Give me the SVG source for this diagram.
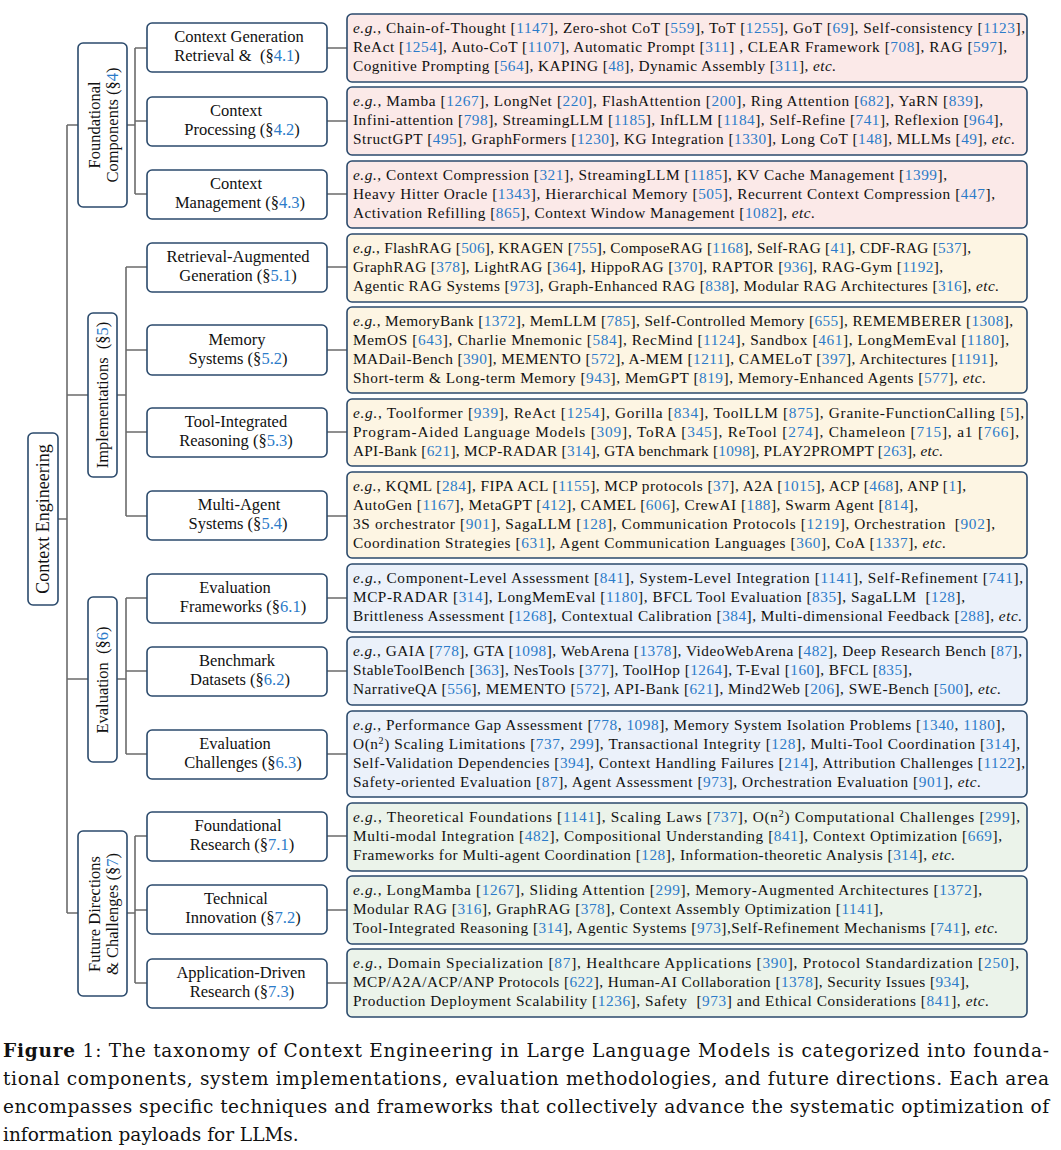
<svg xmlns="http://www.w3.org/2000/svg" width="1061" height="1150" viewBox="0 0 1061 1150">
<style>
text{font-family:"Liberation Serif","Times New Roman",serif;fill:#111}
.box{fill:#fff;stroke:#2b4a6c;stroke-width:1.6}
.pk{fill:#fbe9e8;stroke:#2b4a6c;stroke-width:1.6}
.cr{fill:#fdf5e3;stroke:#2b4a6c;stroke-width:1.6}
.bl{fill:#ebf1fa;stroke:#2b4a6c;stroke-width:1.6}
.gr{fill:#ebf3ea;stroke:#2b4a6c;stroke-width:1.6}
.lt{font-size:15.3px}
.lb{font-size:16.5px;text-anchor:middle}
.rt{font-size:18px;text-anchor:middle}
.c{fill:#2b7bc9}
.i{font-style:italic}
.cap{font-family:"DejaVu Serif","Liberation Serif",serif;font-size:18.5px}
#connectors path{fill:none;stroke:#6b6b6b;stroke-width:1.6}
</style>

<g id="connectors">
<path d="M58,519H67M67,125V913M67,125H78M67,395H88M67,679H88M67,913H78"/>
<path d="M127,125H135M135,48V194M135,48H147M135,121H147M135,194H147"/>
<path d="M117,395H126M126,267V516M126,267H147M126,350H147M126,432H147M126,516H147"/>
<path d="M117,679H126M126,598V754M126,598H147M126,671H147M126,754H147"/>
<path d="M127,913H135M135,836V983M135,836H147M135,910H147M135,983H147"/>
<path d="M327,48H347M327,121H347M327,194H347M327,267H347M327,350H347M327,432H347M327,516H347M327,598H347M327,671H347M327,754H347M327,836H347M327,910H347M327,983H347"/>
</g>

<g id="root">
<rect class="box" x="28" y="433" width="30" height="172" rx="5"/>
<text class="rt" transform="translate(49,519) rotate(-90)" x="0" y="0">Context Engineering</text>
</g>

<g id="l1-foundational">
<rect class="box" x="78" y="43" width="49" height="164" rx="5"/>
<text class="lb" transform="translate(99.5,125) rotate(-90)">Foundational</text>
<text class="lb" transform="translate(117.5,125) rotate(-90)">Components (§<tspan class="c">4</tspan>)</text>
</g>
<g id="l1-implementations">
<rect class="box" x="88" y="313" width="29" height="164" rx="5"/>
<text class="lb" transform="translate(108,395) rotate(-90)">Implementations&#160; (§<tspan class="c">5</tspan>)</text>
</g>
<g id="l1-evaluation">
<rect class="box" x="88" y="597" width="29" height="165" rx="5"/>
<text class="lb" transform="translate(108,680) rotate(-90)">Evaluation&#160; (§<tspan class="c">6</tspan>)</text>
</g>
<g id="l1-future">
<rect class="box" x="78" y="831" width="49" height="165" rx="5"/>
<text class="lb" transform="translate(99.5,914) rotate(-90)">Future Directions</text>
<text class="lb" transform="translate(117.5,914) rotate(-90)">&amp; Challenges (§<tspan class="c">7</tspan>)</text>
</g>

<g id="n41"><rect class="box" x="147" y="23" width="180" height="49" rx="5"/>
<text class="lb" x="239" y="42">Context Generation</text>
<text class="lb" x="237" y="61">Retrieval &amp;&#160; (§<tspan class="c">4.1</tspan>)</text></g>
<g id="n42"><rect class="box" x="147" y="97" width="180" height="49" rx="5"/>
<text class="lb" x="236" y="116">Context</text>
<text class="lb" x="242" y="135">Processing (§<tspan class="c">4.2</tspan>)</text></g>
<g id="n43"><rect class="box" x="147" y="170" width="180" height="49" rx="5"/>
<text class="lb" x="236" y="189">Context</text>
<text class="lb" x="240" y="208">Management (§<tspan class="c">4.3</tspan>)</text></g>
<g id="n51"><rect class="box" x="147" y="243" width="180" height="49" rx="5"/>
<text class="lb" x="238" y="262">Retrieval-Augmented</text>
<text class="lb" x="238" y="281">Generation (§<tspan class="c">5.1</tspan>)</text></g>
<g id="n52"><rect class="box" x="147" y="325" width="180" height="50" rx="5"/>
<text class="lb" x="237" y="345">Memory</text>
<text class="lb" x="238" y="364">Systems (§<tspan class="c">5.2</tspan>)</text></g>
<g id="n53"><rect class="box" x="147" y="408" width="180" height="49" rx="5"/>
<text class="lb" x="236" y="427">Tool-Integrated</text>
<text class="lb" x="236" y="446">Reasoning (§<tspan class="c">5.3</tspan>)</text></g>
<g id="n54"><rect class="box" x="147" y="491" width="180" height="49" rx="5"/>
<text class="lb" x="239" y="510">Multi-Agent</text>
<text class="lb" x="238" y="529">Systems (§<tspan class="c">5.4</tspan>)</text></g>
<g id="n61"><rect class="box" x="147" y="574" width="180" height="49" rx="5"/>
<text class="lb" x="235" y="593">Evaluation</text>
<text class="lb" x="243" y="612">Frameworks (§<tspan class="c">6.1</tspan>)</text></g>
<g id="n62"><rect class="box" x="147" y="647" width="180" height="49" rx="5"/>
<text class="lb" x="237" y="666">Benchmark</text>
<text class="lb" x="240" y="685">Datasets (§<tspan class="c">6.2</tspan>)</text></g>
<g id="n63"><rect class="box" x="147" y="730" width="180" height="49" rx="5"/>
<text class="lb" x="235" y="749">Evaluation</text>
<text class="lb" x="243" y="768">Challenges (§<tspan class="c">6.3</tspan>)</text></g>
<g id="n71"><rect class="box" x="147" y="812" width="180" height="49" rx="5"/>
<text class="lb" x="238" y="831">Foundational</text>
<text class="lb" x="242" y="850">Research (§<tspan class="c">7.1</tspan>)</text></g>
<g id="n72"><rect class="box" x="147" y="885" width="180" height="49" rx="5"/>
<text class="lb" x="236" y="904">Technical</text>
<text class="lb" x="243" y="923">Innovation (§<tspan class="c">7.2</tspan>)</text></g>
<g id="n73"><rect class="box" x="147" y="959" width="180" height="49" rx="5"/>
<text class="lb" x="241" y="978">Application-Driven</text>
<text class="lb" x="242" y="997">Research (§<tspan class="c">7.3</tspan>)</text></g>

<g id="leaf41"><rect class="pk" x="347" y="14" width="680" height="68" rx="5"/>
<text class="lt" x="353" y="33" textLength="672"><tspan class="i">e.g.</tspan>, Chain-of-Thought [<tspan class="c">1147</tspan>], Zero-shot CoT [<tspan class="c">559</tspan>], ToT [<tspan class="c">1255</tspan>], GoT [<tspan class="c">69</tspan>], Self-consistency [<tspan class="c">1123</tspan>],</text>
<text class="lt" x="353" y="52" textLength="654">ReAct [<tspan class="c">1254</tspan>], Auto-CoT [<tspan class="c">1107</tspan>], Automatic Prompt [<tspan class="c">311</tspan>] , CLEAR Framework [<tspan class="c">708</tspan>], RAG [<tspan class="c">597</tspan>],</text>
<text class="lt" x="353" y="71" textLength="483">Cognitive Prompting [<tspan class="c">564</tspan>], KAPING [<tspan class="c">48</tspan>], Dynamic Assembly [<tspan class="c">311</tspan>], <tspan class="i">etc.</tspan></text></g>

<g id="leaf42"><rect class="pk" x="347" y="87" width="680" height="68" rx="5"/>
<text class="lt" x="353" y="106" textLength="630"><tspan class="i">e.g.</tspan>, Mamba [<tspan class="c">1267</tspan>], LongNet [<tspan class="c">220</tspan>], FlashAttention [<tspan class="c">200</tspan>], Ring Attention [<tspan class="c">682</tspan>], YaRN [<tspan class="c">839</tspan>],</text>
<text class="lt" x="353" y="125" textLength="650">Infini-attention [<tspan class="c">798</tspan>], StreamingLLM [<tspan class="c">1185</tspan>], InfLLM [<tspan class="c">1184</tspan>], Self-Refine [<tspan class="c">741</tspan>], Reflexion [<tspan class="c">964</tspan>],</text>
<text class="lt" x="353" y="144" textLength="662">StructGPT [<tspan class="c">495</tspan>], GraphFormers [<tspan class="c">1230</tspan>], KG Integration [<tspan class="c">1330</tspan>], Long CoT [<tspan class="c">148</tspan>], MLLMs [<tspan class="c">49</tspan>], <tspan class="i">etc.</tspan></text></g>

<g id="leaf43"><rect class="pk" x="347" y="161" width="680" height="67" rx="5"/>
<text class="lt" x="353" y="180" textLength="594"><tspan class="i">e.g.</tspan>, Context Compression [<tspan class="c">321</tspan>], StreamingLLM [<tspan class="c">1185</tspan>], KV Cache Management [<tspan class="c">1399</tspan>],</text>
<text class="lt" x="353" y="199" textLength="642">Heavy Hitter Oracle [<tspan class="c">1343</tspan>], Hierarchical Memory [<tspan class="c">505</tspan>], Recurrent Context Compression [<tspan class="c">447</tspan>],</text>
<text class="lt" x="353" y="218" textLength="462">Activation Refilling [<tspan class="c">865</tspan>], Context Window Management [<tspan class="c">1082</tspan>], <tspan class="i">etc.</tspan></text></g>

<g id="leaf51"><rect class="cr" x="347" y="234" width="680" height="68" rx="5"/>
<text class="lt" x="353" y="253" textLength="618"><tspan class="i">e.g.</tspan>, FlashRAG [<tspan class="c">506</tspan>], KRAGEN [<tspan class="c">755</tspan>], ComposeRAG [<tspan class="c">1168</tspan>], Self-RAG [<tspan class="c">41</tspan>], CDF-RAG [<tspan class="c">537</tspan>],</text>
<text class="lt" x="353" y="272" textLength="590">GraphRAG [<tspan class="c">378</tspan>], LightRAG [<tspan class="c">364</tspan>], HippoRAG [<tspan class="c">370</tspan>], RAPTOR [<tspan class="c">936</tspan>], RAG-Gym [<tspan class="c">1192</tspan>],</text>
<text class="lt" x="353" y="291" textLength="646">Agentic RAG Systems [<tspan class="c">973</tspan>], Graph-Enhanced RAG [<tspan class="c">838</tspan>], Modular RAG Architectures [<tspan class="c">316</tspan>], <tspan class="i">etc.</tspan></text></g>

<g id="leaf52"><rect class="cr" x="347" y="307" width="680" height="86" rx="5"/>
<text class="lt" x="353" y="326" textLength="660"><tspan class="i">e.g.</tspan>, MemoryBank [<tspan class="c">1372</tspan>], MemLLM [<tspan class="c">785</tspan>], Self-Controlled Memory [<tspan class="c">655</tspan>], REMEMBERER [<tspan class="c">1308</tspan>],</text>
<text class="lt" x="353" y="345" textLength="656">MemOS [<tspan class="c">643</tspan>], Charlie Mnemonic [<tspan class="c">584</tspan>], RecMind [<tspan class="c">1124</tspan>], Sandbox [<tspan class="c">461</tspan>], LongMemEval [<tspan class="c">1180</tspan>],</text>
<text class="lt" x="353" y="364" textLength="645">MADail-Bench [<tspan class="c">390</tspan>], MEMENTO [<tspan class="c">572</tspan>], A-MEM [<tspan class="c">1211</tspan>], CAMELoT [<tspan class="c">397</tspan>], Architectures [<tspan class="c">1191</tspan>],</text>
<text class="lt" x="353" y="383" textLength="633">Short-term &amp; Long-term Memory [<tspan class="c">943</tspan>], MemGPT [<tspan class="c">819</tspan>], Memory-Enhanced Agents [<tspan class="c">577</tspan>], <tspan class="i">etc.</tspan></text></g>

<g id="leaf53"><rect class="cr" x="347" y="399" width="680" height="67" rx="5"/>
<text class="lt" x="353" y="418" textLength="671"><tspan class="i">e.g.</tspan>, Toolformer [<tspan class="c">939</tspan>], ReAct [<tspan class="c">1254</tspan>], Gorilla [<tspan class="c">834</tspan>], ToolLLM [<tspan class="c">875</tspan>], Granite-FunctionCalling [<tspan class="c">5</tspan>],</text>
<text class="lt" x="353" y="437" textLength="666">Program-Aided Language Models [<tspan class="c">309</tspan>], ToRA [<tspan class="c">345</tspan>], ReTool [<tspan class="c">274</tspan>], Chameleon [<tspan class="c">715</tspan>], a1 [<tspan class="c">766</tspan>],</text>
<text class="lt" x="353" y="456" textLength="590">API-Bank [<tspan class="c">621</tspan>], MCP-RADAR [<tspan class="c">314</tspan>], GTA benchmark [<tspan class="c">1098</tspan>], PLAY2PROMPT [<tspan class="c">263</tspan>], <tspan class="i">etc.</tspan></text></g>

<g id="leaf54"><rect class="cr" x="347" y="472" width="680" height="86" rx="5"/>
<text class="lt" x="353" y="491" textLength="613"><tspan class="i">e.g.</tspan>, KQML [<tspan class="c">284</tspan>], FIPA ACL [<tspan class="c">1155</tspan>], MCP protocols [<tspan class="c">37</tspan>], A2A [<tspan class="c">1015</tspan>], ACP [<tspan class="c">468</tspan>], ANP [<tspan class="c">1</tspan>],</text>
<text class="lt" x="353" y="510" textLength="565">AutoGen [<tspan class="c">1167</tspan>], MetaGPT [<tspan class="c">412</tspan>], CAMEL [<tspan class="c">606</tspan>], CrewAI [<tspan class="c">188</tspan>], Swarm Agent [<tspan class="c">814</tspan>],</text>
<text class="lt" x="353" y="529" textLength="642">3S orchestrator [<tspan class="c">901</tspan>], SagaLLM [<tspan class="c">128</tspan>], Communication Protocols [<tspan class="c">1219</tspan>], Orchestration&#160; [<tspan class="c">902</tspan>],</text>
<text class="lt" x="353" y="548" textLength="593">Coordination Strategies [<tspan class="c">631</tspan>], Agent Communication Languages [<tspan class="c">360</tspan>], CoA [<tspan class="c">1337</tspan>], <tspan class="i">etc.</tspan></text></g>

<g id="leaf61"><rect class="bl" x="347" y="564" width="680" height="68" rx="5"/>
<text class="lt" x="353" y="583" textLength="670"><tspan class="i">e.g.</tspan>, Component-Level Assessment [<tspan class="c">841</tspan>], System-Level Integration [<tspan class="c">1141</tspan>], Self-Refinement [<tspan class="c">741</tspan>],</text>
<text class="lt" x="353" y="602" textLength="612">MCP-RADAR [<tspan class="c">314</tspan>], LongMemEval [<tspan class="c">1180</tspan>], BFCL Tool Evaluation [<tspan class="c">835</tspan>], SagaLLM&#160; [<tspan class="c">128</tspan>],</text>
<text class="lt" x="353" y="621" textLength="669">Brittleness Assessment [<tspan class="c">1268</tspan>], Contextual Calibration [<tspan class="c">384</tspan>], Multi-dimensional Feedback [<tspan class="c">288</tspan>], <tspan class="i">etc.</tspan></text></g>

<g id="leaf62"><rect class="bl" x="347" y="637" width="680" height="68" rx="5"/>
<text class="lt" x="353" y="656" textLength="669"><tspan class="i">e.g.</tspan>, GAIA [<tspan class="c">778</tspan>], GTA [<tspan class="c">1098</tspan>], WebArena [<tspan class="c">1378</tspan>], VideoWebArena [<tspan class="c">482</tspan>], Deep Research Bench [<tspan class="c">87</tspan>],</text>
<text class="lt" x="353" y="675" textLength="559">StableToolBench [<tspan class="c">363</tspan>], NesTools [<tspan class="c">377</tspan>], ToolHop [<tspan class="c">1264</tspan>], T-Eval [<tspan class="c">160</tspan>], BFCL [<tspan class="c">835</tspan>],</text>
<text class="lt" x="353" y="694" textLength="648">NarrativeQA [<tspan class="c">556</tspan>], MEMENTO [<tspan class="c">572</tspan>], API-Bank [<tspan class="c">621</tspan>], Mind2Web [<tspan class="c">206</tspan>], SWE-Bench [<tspan class="c">500</tspan>], <tspan class="i">etc.</tspan></text></g>

<g id="leaf63"><rect class="bl" x="347" y="711" width="680" height="86" rx="5"/>
<text class="lt" x="353" y="730" textLength="652"><tspan class="i">e.g.</tspan>, Performance Gap Assessment [<tspan class="c">778</tspan>, <tspan class="c">1098</tspan>], Memory System Isolation Problems [<tspan class="c">1340</tspan>, <tspan class="c">1180</tspan>],</text>
<text class="lt" x="353" y="749" textLength="667">O(n<tspan font-size="10" baseline-shift="super">2</tspan>) Scaling Limitations [<tspan class="c">737</tspan>, <tspan class="c">299</tspan>], Transactional Integrity [<tspan class="c">128</tspan>], Multi-Tool Coordination [<tspan class="c">314</tspan>],</text>
<text class="lt" x="353" y="768" textLength="672">Self-Validation Dependencies [<tspan class="c">394</tspan>], Context Handling Failures [<tspan class="c">214</tspan>], Attribution Challenges [<tspan class="c">1122</tspan>],</text>
<text class="lt" x="353" y="787" textLength="628">Safety-oriented Evaluation [<tspan class="c">87</tspan>], Agent Assessment [<tspan class="c">973</tspan>], Orchestration Evaluation [<tspan class="c">901</tspan>], <tspan class="i">etc.</tspan></text></g>

<g id="leaf71"><rect class="gr" x="347" y="803" width="680" height="68" rx="5"/>
<text class="lt" x="353" y="822" textLength="667"><tspan class="i">e.g.</tspan>, Theoretical Foundations [<tspan class="c">1141</tspan>], Scaling Laws [<tspan class="c">737</tspan>], O(n<tspan font-size="10" baseline-shift="super">2</tspan>) Computational Challenges [<tspan class="c">299</tspan>],</text>
<text class="lt" x="353" y="841" textLength="649">Multi-modal Integration [<tspan class="c">482</tspan>], Compositional Understanding [<tspan class="c">841</tspan>], Context Optimization [<tspan class="c">669</tspan>],</text>
<text class="lt" x="353" y="860" textLength="602">Frameworks for Multi-agent Coordination [<tspan class="c">128</tspan>], Information-theoretic Analysis [<tspan class="c">314</tspan>], <tspan class="i">etc.</tspan></text></g>

<g id="leaf72"><rect class="gr" x="347" y="876" width="680" height="68" rx="5"/>
<text class="lt" x="353" y="895" textLength="629"><tspan class="i">e.g.</tspan>, LongMamba [<tspan class="c">1267</tspan>], Sliding Attention [<tspan class="c">299</tspan>], Memory-Augmented Architectures [<tspan class="c">1372</tspan>],</text>
<text class="lt" x="353" y="914" textLength="530">Modular RAG [<tspan class="c">316</tspan>], GraphRAG [<tspan class="c">378</tspan>], Context Assembly Optimization [<tspan class="c">1141</tspan>],</text>
<text class="lt" x="353" y="933" textLength="645">Tool-Integrated Reasoning [<tspan class="c">314</tspan>], Agentic Systems [<tspan class="c">973</tspan>],Self-Refinement Mechanisms [<tspan class="c">741</tspan>], <tspan class="i">etc.</tspan></text></g>

<g id="leaf73"><rect class="gr" x="347" y="949" width="680" height="68" rx="5"/>
<text class="lt" x="353" y="968" textLength="666"><tspan class="i">e.g.</tspan>, Domain Specialization [<tspan class="c">87</tspan>], Healthcare Applications [<tspan class="c">390</tspan>], Protocol Standardization [<tspan class="c">250</tspan>],</text>
<text class="lt" x="353" y="987" textLength="616">MCP/A2A/ACP/ANP Protocols [<tspan class="c">622</tspan>], Human-AI Collaboration [<tspan class="c">1378</tspan>], Security Issues [<tspan class="c">934</tspan>],</text>
<text class="lt" x="353" y="1006" textLength="636">Production Deployment Scalability [<tspan class="c">1236</tspan>], Safety&#160; [<tspan class="c">973</tspan>] and Ethical Considerations [<tspan class="c">841</tspan>], <tspan class="i">etc.</tspan></text></g>

<g id="caption">
<text class="cap" x="3" y="1057" textLength="1046"><tspan font-weight="bold">Figure</tspan> 1: The taxonomy of Context Engineering in Large Language Models is categorized into founda-</text>
<text class="cap" x="3" y="1085" textLength="1046">tional components, system implementations, evaluation methodologies, and future directions. Each area</text>
<text class="cap" x="3" y="1113" textLength="1046">encompasses specific techniques and frameworks that collectively advance the systematic optimization of</text>
<text class="cap" x="3" y="1141">information payloads for LLMs.</text>
</g>
</svg>
